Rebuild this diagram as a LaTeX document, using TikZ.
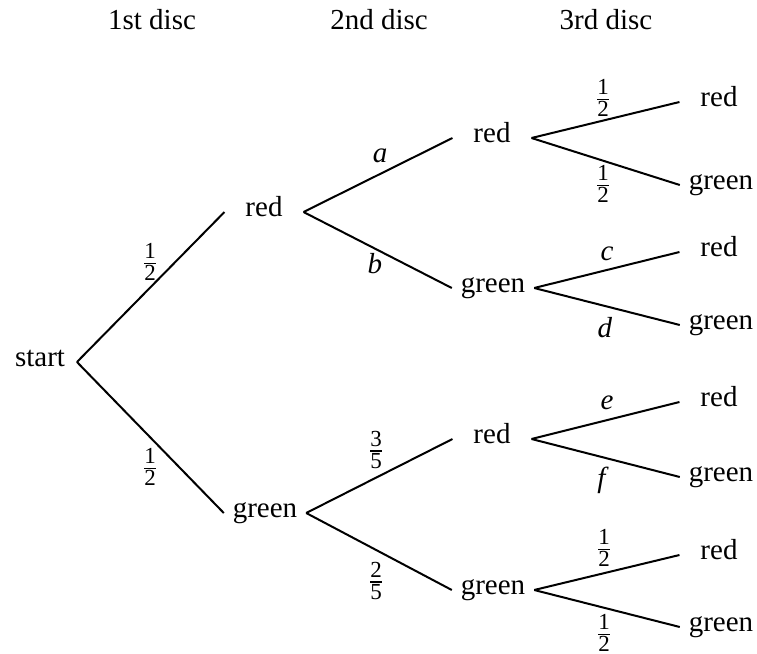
\documentclass[tikz,border=0pt]{standalone}
\usepackage{amsmath}
\usepackage{fontspec}
\setmainfont{Liberation Serif}
\usepackage{tikz}
\newcommand{\pr}[2]{$\frac{\text{\fontsize{11.5}{12}\selectfont #1}}{\text{\fontsize{11.5}{12}\selectfont #2}}$}

\begin{document}
\begin{tikzpicture}
            [x=0.5pt,y=-0.5pt,line width=1pt,
             every node/.style={inner sep=0pt,font=\fontsize{14.5}{17}\selectfont},
             txt/.style={text height=1ex,text depth=0pt},
             rn/.style={txt,inner xsep=10pt},
             gn/.style={txt,inner xsep=4pt}]
            \useasboundingbox (0,0) rectangle (757,654);
            \node[txt] (H1) at (152,25) {1st disc};
            \node[txt] (H2) at (379,25) {2nd disc};
            \node[txt] (H3) at (606,25) {3rd disc};

            \node[txt,inner xsep=5.5pt] (S) at (40,362) {start};
            \node[rn] (R) at (264,212) {red};
            \node[gn] (G) at (265,513) {green};
            \node[rn] (RR) at (492,138) {red};
            \node[gn] (RG) at (493,288) {green};
            \node[rn] (GR) at (492,439) {red};
            \node[gn] (GG) at (493,590) {green};
            \node[rn] (RRR) at (719,102) {red};
            \node[gn] (RRG) at (721,185) {green};
            \node[rn] (RGR) at (719,252) {red};
            \node[gn] (RGG) at (721,325) {green};
            \node[rn] (GRR) at (719,402) {red};
            \node[gn] (GRG) at (721,477) {green};
            \node[rn] (GGR) at (719,555) {red};
            \node[gn] (GGG) at (721,627) {green};

            \node (P1) at (150,262) {\pr{1}{2}};
            \node (P2) at (150,467) {\pr{1}{2}};
            \node[txt] (Pa) at (380,158) {\textit{a}};
            \node[txt] (Pb) at (375,269) {\textit{b}};
            \node (P3) at (376,450) {\pr{3}{5}};
            \node (P4) at (376,581) {\pr{2}{5}};
            \node (P5) at (603,98) {\pr{1}{2}};
            \node (P6) at (603,184) {\pr{1}{2}};
            \node[txt] (Pc) at (607,256) {\textit{c}};
            \node[txt] (Pd) at (605,333) {\textit{d}};
            \node[txt] (Pe) at (607,405) {\textit{e}};
            \node[txt] (Pf) at (603,483) {\textit{f}};
            \node (P7) at (604,548) {\pr{1}{2}};
            \node (P8) at (604,633) {\pr{1}{2}};

            \draw (S.east) -- (R.west);
            \draw (S.east) -- (G.west);
            \draw (R.east) -- (RR.west);
            \draw (R.east) -- (RG.west);
            \draw (G.east) -- (GR.west);
            \draw (G.east) -- (GG.west);
            \draw (RR.east) -- (RRR.west);
            \draw (RR.east) -- (RRG.west);
            \draw (RG.east) -- (RGR.west);
            \draw (RG.east) -- (RGG.west);
            \draw (GR.east) -- (GRR.west);
            \draw (GR.east) -- (GRG.west);
            \draw (GG.east) -- (GGR.west);
            \draw (GG.east) -- (GGG.west);
        \end{tikzpicture}
\end{document}
